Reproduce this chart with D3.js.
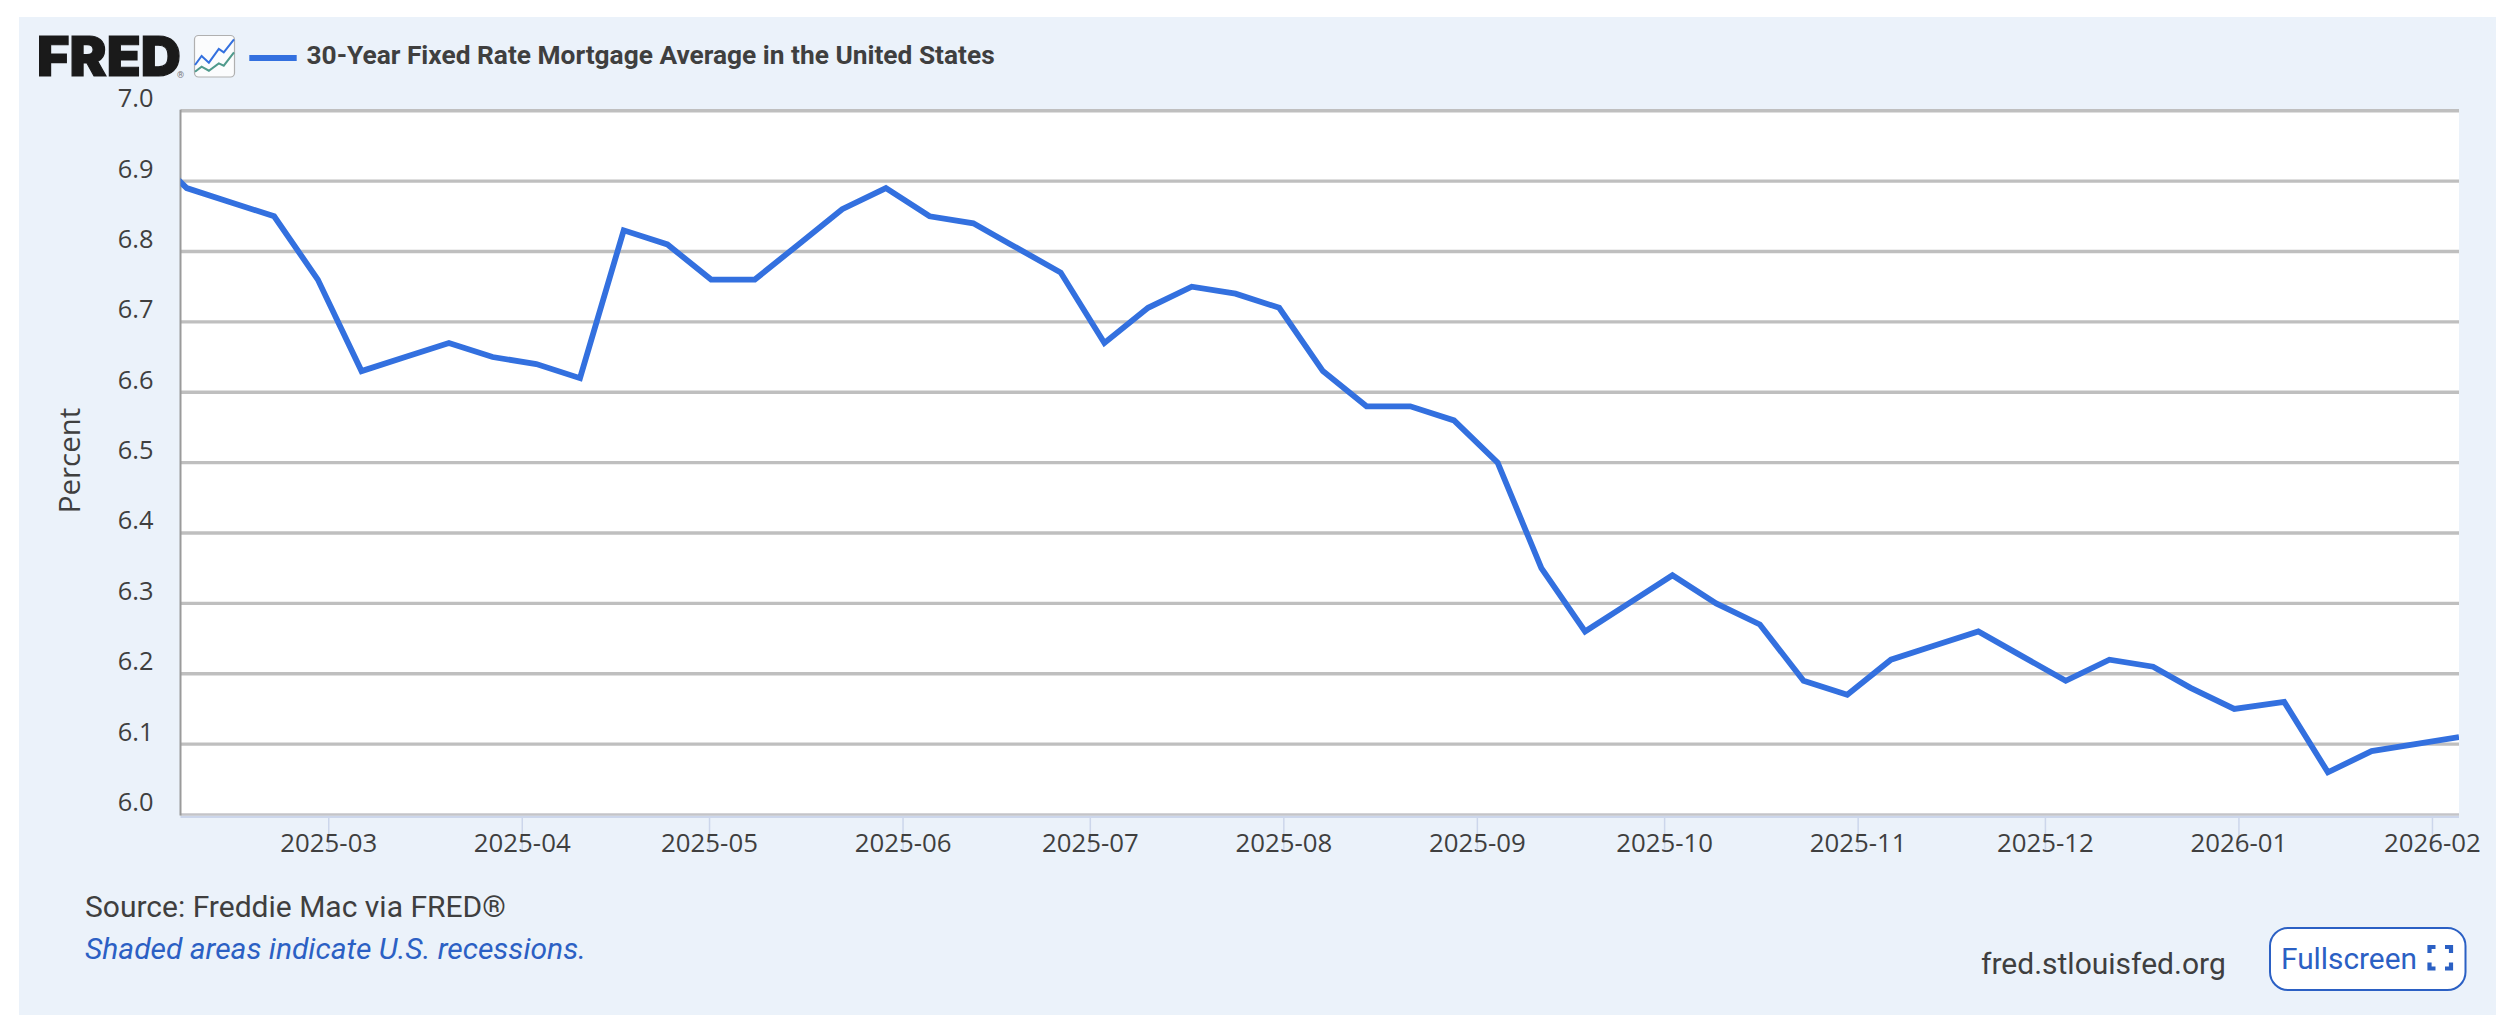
<!DOCTYPE html>
<html><head><meta charset="utf-8">
<script src="https://cdn.jsdelivr.net/npm/d3@7/dist/d3.min.js"></script>
<style>html,body{margin:0;padding:0;background:#fff}svg{display:block}text{font-family:Roboto,sans-serif}</style>
</head><body><svg id="c" width="2500" height="1017"></svg>
<script>
const dates=["2025-01-30","2025-02-06","2025-02-13","2025-02-20","2025-02-27","2025-03-06","2025-03-13","2025-03-20","2025-03-27","2025-04-03","2025-04-10","2025-04-17","2025-04-24","2025-05-01","2025-05-08","2025-05-15","2025-05-22","2025-05-29","2025-06-05","2025-06-12","2025-06-18","2025-06-26","2025-07-03","2025-07-10","2025-07-17","2025-07-24","2025-07-31","2025-08-07","2025-08-14","2025-08-21","2025-08-28","2025-09-04","2025-09-11","2025-09-18","2025-09-25","2025-10-02","2025-10-09","2025-10-16","2025-10-23","2025-10-30","2025-11-06","2025-11-13","2025-11-20","2025-11-26","2025-12-04","2025-12-11","2025-12-18","2025-12-24","2025-12-31","2026-01-08","2026-01-15","2026-01-22","2026-01-29","2026-02-05"];
const values=[6.95,6.89,6.87,6.85,6.76,6.63,6.65,6.67,6.65,6.64,6.62,6.83,6.81,6.76,6.76,6.81,6.86,6.89,6.85,6.84,6.81,6.77,6.67,6.72,6.75,6.74,6.72,6.63,6.58,6.58,6.56,6.50,6.35,6.26,6.30,6.34,6.30,6.27,6.19,6.17,6.22,6.24,6.26,6.23,6.19,6.22,6.21,6.18,6.15,6.16,6.06,6.09,6.10,6.11];
const xTicks=["2025-03-01","2025-04-01","2025-05-01","2025-06-01","2025-07-01","2025-08-01","2025-09-01","2025-10-01","2025-11-01","2025-12-01","2026-01-01","2026-02-01"];
const yTicks=[6.0,6.1,6.2,6.3,6.4,6.5,6.6,6.7,6.8,6.9,7.0];
const xDomain=["2025-02-05","2026-02-05"];
const title="30-Year Fixed Rate Mortgage Average in the United States";
const yLabel="Percent";
const sourceText="Source: Freddie Mac via FRED®";
const noteText="Shaded areas indicate U.S. recessions.";
const siteText="fred.stlouisfed.org";
const buttonText="Fullscreen";
// small logo sparkline, in arbitrary units
const iconSteps=[0,20,42,72,87,118];
const iconBlue=[135,108,128,87,97,58];
const iconGreen=[155,140,152,130,137,97];

const BLUE="#3370df",INK="#3f3f3f",LINK="#2b60c4",BG="#ebf2fa";
const L=180.5,R=2459,T=110.7,B=814.5;
const parse=d3.utcParse("%Y-%m-%d");
const svg=d3.select("#c");
const x=d3.scaleUtc().domain(xDomain.map(parse)).range([L,R]);
const y=d3.scaleLinear().domain([6,7]).range([B,T]);

svg.append("rect").attr("x",19).attr("y",17).attr("width",2477).attr("height",998).attr("fill",BG);
svg.append("rect").attr("x",L).attr("y",T).attr("width",R-L).attr("height",B-T).attr("fill","#fff");
svg.append("defs").append("clipPath").attr("id","plot").append("rect").attr("x",L).attr("y",T-3).attr("width",R-L).attr("height",B-T+6);

const yAxis=d3.axisLeft(y).tickValues(yTicks).tickFormat(d3.format(".1f")).tickSize(0).tickPadding(0);
const gy=svg.append("g").attr("transform",`translate(${L},0)`).call(yAxis);
gy.select(".domain").remove();
gy.selectAll("text").attr("x",153.5-L).attr("y",-4).attr("dy",0).attr("font-size",25.4).attr("fill",INK).attr("text-anchor","end").style("font-family","'Open Sans'");
svg.append("g").selectAll("line").data(yTicks).join("line")
  .attr("x1",L).attr("x2",R).attr("y1",d=>y(d)).attr("y2",d=>y(d))
  .attr("stroke",d=>d===6?"#c4c4c8":"#bfbfbf").attr("stroke-width",d=>d===6?2.5:3.4);
svg.append("line").attr("x1",L).attr("x2",R).attr("y1",B+2.5).attr("y2",B+2.5).attr("stroke","#ccd6eb").attr("stroke-width",2);
svg.append("line").attr("x1",L).attr("x2",L).attr("y1",T-1).attr("y2",B+1).attr("stroke","#9a9a9a").attr("stroke-width",2);

const tickShiftMs=8*3600*1000;
const xTickDates=xTicks.map(s=>new Date(+parse(s)-tickShiftMs));
const offs=d=>new Date(+d+tickShiftMs);
const xAxis=d3.axisBottom(x).tickValues(xTickDates).tickFormat(d=>d3.utcFormat("%Y-%m")(offs(d))).tickSize(0).tickPadding(0);
const gx=svg.append("g").attr("transform",`translate(0,${B})`).call(xAxis);
gx.select(".domain").remove();
gx.selectAll("line").attr("y1",2).attr("y2",37).attr("stroke","#ccd6eb").attr("stroke-width",1.5);
gx.selectAll("text").attr("y",37.5).attr("dy",0).attr("font-size",25.8).attr("fill",INK).style("font-family","'Open Sans'");

const pts=dates.map((d,i)=>({d:parse(d),v:values[i]}));
const line=d3.line().x(p=>x(p.d)).y(p=>y(p.v)).curve(d3.curveLinear);
svg.append("path").datum(pts).attr("d",line).attr("fill","none").attr("stroke",BLUE).attr("stroke-width",5.8).attr("stroke-linejoin","miter").attr("clip-path","url(#plot)");

svg.append("text").attr("x",37).attr("y",76).attr("font-size",55).attr("font-weight",900).attr("fill","#1a1a1a").attr("stroke","#1a1a1a").attr("stroke-width",1.2).attr("textLength",144).attr("lengthAdjust","spacingAndGlyphs").style("font-family","Inter").text("FRED");
svg.append("text").attr("x",177).attr("y",77.5).attr("font-size",9).attr("fill","#777").text("®");
const icon=svg.append("g");
icon.append("rect").attr("x",194.5).attr("y",35.5).attr("width",40).attr("height",41.5).attr("rx",4).attr("fill","#fbfcfd").attr("stroke","#b0b0b0").attr("stroke-width",1.2);
const iconX=d3.scaleLinear().domain([0,118]).range([195,234]);
const iconY=d3.scaleLinear().domain([58,155]).range([39.3,71.7]);
const il=d3.line().x((d,i)=>iconX(iconSteps[i])).y(d=>iconY(d));
icon.append("path").attr("d",il(iconBlue)).attr("fill","none").attr("stroke","#3370df").attr("stroke-width",2);
icon.append("path").attr("d",il(iconGreen)).attr("fill","none").attr("stroke","#4f9a8c").attr("stroke-width",2);
svg.append("line").attr("x1",249.3).attr("x2",296.7).attr("y1",58).attr("y2",58).attr("stroke",BLUE).attr("stroke-width",6);
svg.append("text").attr("x",306.5).attr("y",63.8).attr("font-size",26.3).attr("font-weight",700).attr("fill",INK).text(title);

svg.append("text").attr("transform","translate(80,460.5) rotate(-90)").attr("text-anchor","middle").attr("font-size",29.4).attr("fill",INK).style("font-family","'Open Sans'").text(yLabel);

svg.append("text").attr("x",85).attr("y",916.7).attr("font-size",30).attr("fill",INK).text(sourceText);
svg.append("text").attr("x",85).attr("y",959).attr("font-size",30).attr("font-style","italic").attr("fill",LINK).text(noteText);
svg.append("text").attr("x",1981).attr("y",974).attr("font-size",30).attr("fill",INK).text(siteText);
svg.append("rect").attr("x",2270).attr("y",928).attr("width",195.5).attr("height",62).attr("rx",18).attr("fill","#fff").attr("stroke",LINK).attr("stroke-width",2);
svg.append("text").attr("x",2281).attr("y",969).attr("font-size",29.8).attr("fill",LINK).text(buttonText);
const corners=[[2429.5,947,1,1],[2451,947,-1,1],[2429.5,968.5,1,-1],[2451,968.5,-1,-1]];
svg.append("g").selectAll("path").data(corners).join("path")
  .attr("d",d=>d3.line()([[d[0],d[1]+d[3]*6],[d[0],d[1]],[d[0]+d[2]*6,d[1]]]))
  .attr("fill","none").attr("stroke",LINK).attr("stroke-width",4.2);
</script></body></html>
